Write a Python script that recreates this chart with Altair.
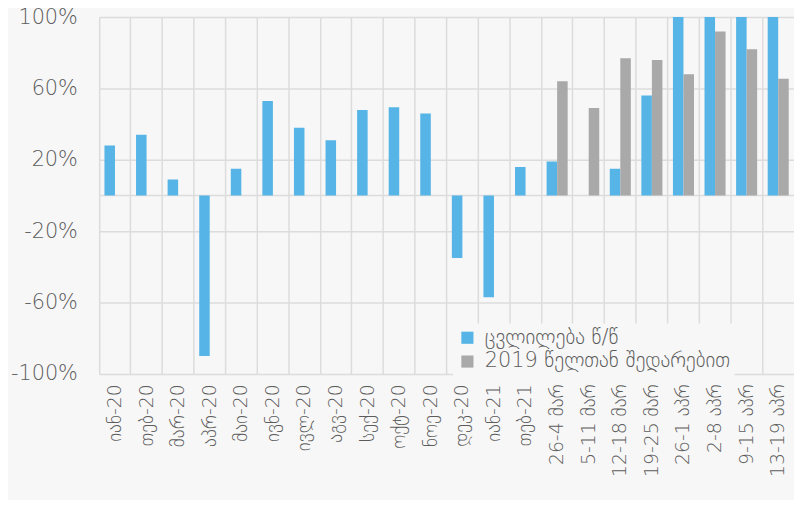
import altair as alt
import pandas as pd

categories = ["იან-20", "თებ-20", "მარ-20", "აპრ-20", "მაი-20", "ივნ-20", "ივლ-20",
              "აგვ-20", "სექ-20", "ოქტ-20", "ნოე-20", "დეკ-20", "იან-21", "თებ-21",
              "26-4 მარ", "5-11 მარ", "12-18 მარ", "19-25 მარ", "26-1 აპრ",
              "2-8 აპრ", "9-15 აპრ", "13-19 აპრ"]

series_names = ["ცვლილება წ/წ", "2019 წელთან შედარებით"]

yoy = [28, 34, 9, -90, 15, 53, 38, 31, 48, 49.5, 46, -35, -57, 16,
       19, None, 15, 56, 130, 140, 135, 125]
vs2019 = [None] * 14 + [64, 49, 77, 76, 68, 92, 82, 65.5]

y_ticks = [-100, -60, -20, 20, 60, 100]
colors = ["#56b5e6", "#a9a9a9"]

rows = []
for i, c in enumerate(categories):
    if yoy[i] is not None:
        rows.append({"cat": c, "series": series_names[0], "value": yoy[i]})
    if vs2019[i] is not None:
        rows.append({"cat": c, "series": series_names[1], "value": vs2019[i]})
df = pd.DataFrame(rows)

FONT = "DejaVu Sans"
WEIGHT = 200
LABEL_COLOR = "#5c5c5c"
GRID = "#dcdcdc"

bars = alt.Chart(df).mark_bar(clip=True).encode(
    x=alt.X("cat:N", sort=categories, title=None,
            scale=alt.Scale(paddingInner=0, paddingOuter=0),
            axis=alt.Axis(labelAngle=-90, labelFontSize=19, labelColor=LABEL_COLOR,
                          labelFont=FONT, labelFontWeight=WEIGHT, labelPadding=10,
                          ticks=False, domain=False,
                          grid=True, gridColor=GRID, gridWidth=1.5, bandPosition=0,
                          labelAlign="right", labelBaseline="middle")),
    xOffset=alt.XOffset("series:N", sort=series_names,
                        scale=alt.Scale(paddingOuter=0.5, paddingInner=0)),
    y=alt.Y("value:Q", title=None,
            scale=alt.Scale(domain=[-100, 100], nice=False, zero=False),
            axis=alt.Axis(values=y_ticks, labelExpr="datum.value + '%'",
                          labelFontSize=21, labelColor=LABEL_COLOR, labelFont=FONT,
                          labelFontWeight=WEIGHT,
                          labelPadding=22, ticks=False, domain=False,
                          grid=True, gridColor=GRID, gridWidth=1.5)),
    color=alt.Color("series:N", sort=series_names,
                    scale=alt.Scale(domain=series_names, range=colors),
                    legend=alt.Legend(title=None, orient="none", legendX=357, legendY=309,
                                      symbolType="square", symbolSize=150,
                                      symbolStrokeWidth=0, labelFontSize=21,
                                      labelFont=FONT, labelFontWeight=WEIGHT,
                                      labelColor=LABEL_COLOR,
                                      labelLimit=500,
                                      fillColor="#f7f7f7", padding=4, rowPadding=2,
                                      labelOffset=7)),
)

zero = alt.Chart(pd.DataFrame({"z": [0]})).mark_rule(color=GRID, strokeWidth=1.5).encode(
    y=alt.Y("z:Q")
)

chart = alt.layer(zero, bars).properties(
    width=701, height=360,
    background="#f7f7f7",
    padding={"left": 92, "top": 7, "right": 0, "bottom": 125},
    autosize=alt.AutoSizeParams(type="none"),
).configure_view(stroke=None)

chart.save("out.html", embed_options={"renderer": "svg", "actions": False})
